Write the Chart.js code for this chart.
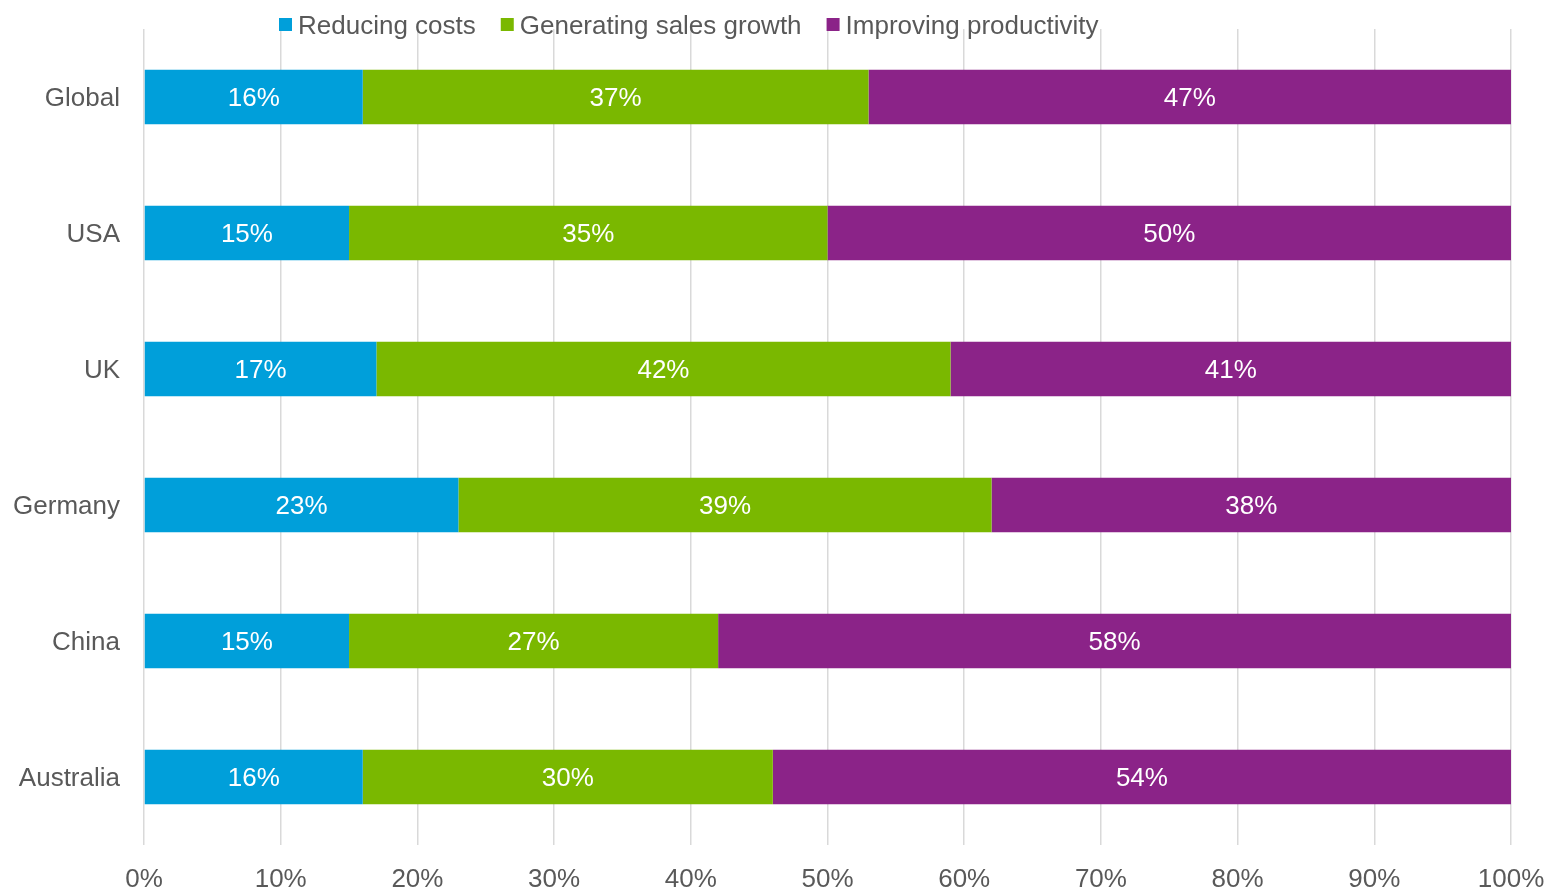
<!DOCTYPE html>
<html>
<head>
<meta charset="utf-8">
<script src="https://cdn.jsdelivr.net/npm/chart.js@4"></script>
<style>
  html, body { margin: 0; padding: 0; background: #fff; }
  #wrap { width: 1550px; height: 890px; position: relative; }
</style>
</head>
<body>
<div id="wrap"><canvas id="chart"></canvas></div>
<script>
// --- données ---
const countries = ['Global', 'USA', 'UK', 'Germany', 'China', 'Australia'];
const reducingCosts = [16, 15, 17, 23, 15, 16];
const salesGrowth = [37, 35, 42, 39, 27, 30];
const productivity = [47, 50, 41, 38, 58, 54];

const FONT = '"Liberation Sans", Arial, sans-serif';
const GREY = '#595959';

// étiquettes blanches au centre des barres
const barLabels = {
    id: 'barLabels',
    afterDatasetsDraw(chart) {
        const ctx = chart.ctx;
        ctx.save();
        ctx.fillStyle = '#ffffff';
        ctx.font = '26px ' + FONT;
        ctx.textAlign = 'center';
        ctx.textBaseline = 'middle';
        chart.data.datasets.forEach((ds, i) => {
            chart.getDatasetMeta(i).data.forEach((bar, j) => {
                const p = bar.getProps(['x', 'y', 'base'], true);
                ctx.fillText(ds.data[j] + '%', (p.x + p.base) / 2, p.y + 2);
            });
        });
        ctx.restore();
    }
};

// légende dessinée à la main (position comme l'original)
const topLegend = {
    id: 'topLegend',
    afterDraw(chart) {
        const ctx = chart.ctx;
        ctx.save();
        ctx.font = '26px ' + FONT;
        ctx.textBaseline = 'middle';
        let x = 279;
        const y = 25;
        chart.data.datasets.forEach(ds => {
            ctx.fillStyle = ds.backgroundColor;
            ctx.fillRect(x, y - 7, 13, 13);
            x += 19;
            ctx.fillStyle = GREY;
            ctx.fillText(ds.label, x, y + 2);
            x += ctx.measureText(ds.label).width + 25;
        });
        ctx.restore();
    }
};

new Chart(document.getElementById('chart'), {
    type: 'bar',
    data: {
        labels: countries,
        datasets: [
            { label: 'Reducing costs', data: reducingCosts, backgroundColor: '#009fda' },
            { label: 'Generating sales growth', data: salesGrowth, backgroundColor: '#7ab800' },
            { label: 'Improving productivity', data: productivity, backgroundColor: '#8b2388' }
        ]
    },
    options: {
        indexAxis: 'y',
        responsive: true,
        maintainAspectRatio: false,
        animation: false,
        layout: { padding: { top: 29, right: 0, bottom: 0, left: 11 } },
        datasets: {
            bar: { barPercentage: 0.8, categoryPercentage: 0.5 }
        },
        plugins: {
            legend: { display: false },
            tooltip: { enabled: false }
        },
        scales: {
            x: {
                stacked: true,
                min: 0,
                max: 100,
                ticks: {
                    stepSize: 10,
                    color: GREY,
                    font: { size: 26, family: FONT, lineHeight: 1 },
                    padding: 22,
                    maxRotation: 0,
                    callback: v => v + '%'
                },
                grid: { color: '#d9d9d9', lineWidth: 1.5, drawTicks: false },
                border: { display: false },
                afterFit(scale) {
                    scale.height = 45;
                    scale.paddingLeft = 0;
                    scale.paddingRight = 39;
                }
            },
            y: {
                stacked: true,
                ticks: {
                    color: GREY,
                    font: { size: 26, family: FONT },
                    padding: 24,
                    labelOffset: 2
                },
                grid: { display: false, drawTicks: false },
                border: { display: false },
                afterFit(scale) {
                    scale.width = 133;
                    scale.paddingTop = 0;
                    scale.paddingBottom = 0;
                }
            }
        }
    },
    plugins: [barLabels, topLegend]
});
</script>
</body>
</html>
